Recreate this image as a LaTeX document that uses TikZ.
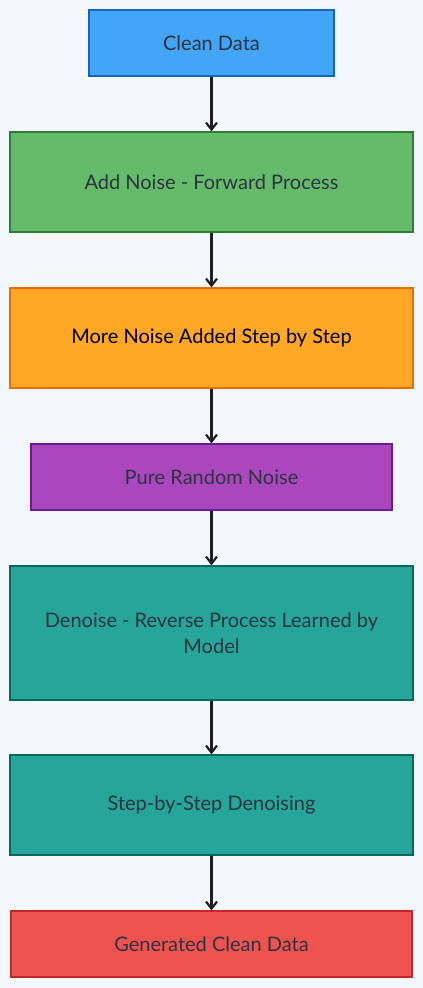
\documentclass[tikz,border=0pt]{standalone}
\usepackage{fontspec}
\setmainfont{Lato}
\usepackage{xcolor}
\usetikzlibrary{arrows.meta}

\definecolor{bgpage}{HTML}{F3F7FE}
\definecolor{txtdark}{HTML}{2B3440}
\definecolor{bluefill}{HTML}{42A5F5}
\definecolor{blueline}{HTML}{1565C0}
\definecolor{greenfill}{HTML}{66BB6A}
\definecolor{greenline}{HTML}{2E7D32}
\definecolor{orangefill}{HTML}{FFA726}
\definecolor{orangeline}{HTML}{EF6C00}
\definecolor{purplefill}{HTML}{AB47BC}
\definecolor{purpleline}{HTML}{6A1B9A}
\definecolor{tealfill}{HTML}{26A69A}
\definecolor{tealline}{HTML}{00695C}
\definecolor{redfill}{HTML}{EF5350}
\definecolor{redline}{HTML}{C62828}

\tikzset{
	stage/.style={draw, line width=1.3pt, rectangle, text=txtdark, font=\fontsize{20}{26}\selectfont, align=center, inner sep=0pt},
	flow/.style={line width=2.2pt, black!88, -{Straight Barb[length=7pt,width=11pt]}}
}

\begin{document}
\begin{tikzpicture}[x=1pt,y=-1pt]
	\useasboundingbox[fill=bgpage] (0,0) rectangle (423,988);

	\node (clean) [stage, fill=bluefill, draw=blueline, minimum width=245pt, minimum height=66pt] at (211.5,43) {Clean Data};
	\node (addnoise) [stage, fill=greenfill, draw=greenline, minimum width=403pt, minimum height=100pt] at (211.5,182) {Add Noise - Forward Process};
	\node (morenoise) [stage, fill=orangefill, draw=orangeline, text=black, minimum width=403pt, minimum height=100pt] at (211.5,338) {More Noise Added Step by Step};
	\node (purenoise) [stage, fill=purplefill, draw=purpleline, minimum width=361pt, minimum height=66pt] at (211.5,477) {Pure Random Noise};
	\node (denoise) [stage, fill=tealfill, draw=tealline, minimum width=403pt, minimum height=134pt] at (211.5,633) {Denoise - Reverse Process Learned by\\Model};
	\node (stepwise) [stage, fill=tealfill, draw=tealline, minimum width=403pt, minimum height=100pt] at (211.5,805) {Step-by-Step Denoising};
	\node (generated) [stage, fill=redfill, draw=redline, minimum width=401pt, minimum height=66pt] at (211.5,944) {Generated Clean Data};

	\path[flow]
	(clean) edge (addnoise)
	(addnoise) edge (morenoise)
	(morenoise) edge (purenoise)
	(purenoise) edge (denoise)
	(denoise) edge (stepwise)
	(stepwise) edge (generated);
\end{tikzpicture}
\end{document}
